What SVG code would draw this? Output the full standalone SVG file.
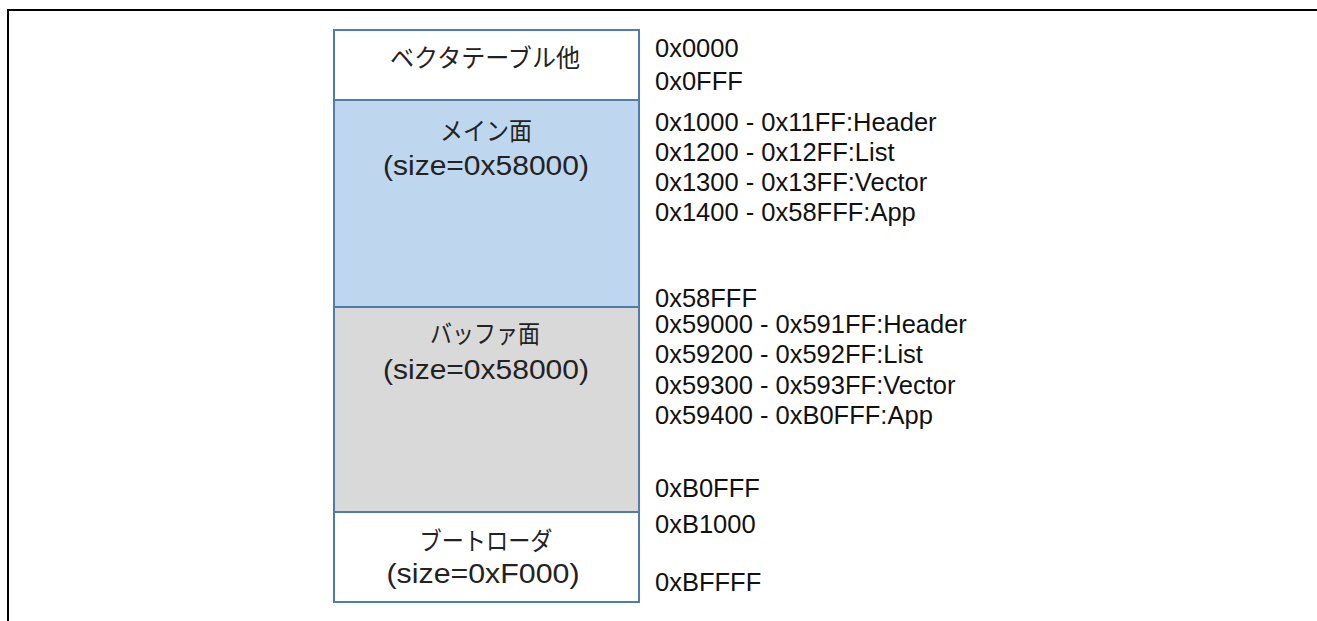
<svg xmlns="http://www.w3.org/2000/svg" width="1317" height="621" viewBox="0 0 1317 621">
  <style>
    .frame { fill: none; stroke: #000; stroke-width: 2; }
    .box { stroke: #4F7CAC; stroke-width: 2; }
    .jp { font-family: "Noto Sans CJK JP", "Noto Sans", sans-serif; font-size: 25px; fill: #222; text-anchor: middle; }
    .lat { font-family: "Liberation Sans", Arial, sans-serif; font-size: 28px; fill: #222; text-anchor: middle; }
    .addr { font-family: "Liberation Sans", Arial, sans-serif; font-size: 25.5px; fill: #111; }
  </style>
  <path class="frame" d="M8,621 V10 H1317"/>
  <g id="vector-table">
    <rect class="box" x="334" y="30" width="305" height="70" fill="#FFFFFF"/>
    <text class="jp" x="485" y="67" textLength="190" lengthAdjust="spacingAndGlyphs">ベクタテーブル他</text>
  </g>
  <g id="main-plane">
    <rect class="box" x="334" y="100" width="305" height="207" fill="#BED7EE"/>
    <text class="jp" x="486" y="140" textLength="92" lengthAdjust="spacingAndGlyphs">メイン面</text>
    <text class="lat" x="486" y="175" textLength="206" lengthAdjust="spacingAndGlyphs">(size=0x58000)</text>
  </g>
  <g id="buffer-plane">
    <rect class="box" x="334" y="307" width="305" height="205" fill="#D9D9D9"/>
    <text class="jp" x="485" y="343" textLength="110" lengthAdjust="spacingAndGlyphs">バッファ面</text>
    <text class="lat" x="486" y="379" textLength="206" lengthAdjust="spacingAndGlyphs">(size=0x58000)</text>
  </g>
  <g id="bootloader">
    <rect class="box" x="334" y="512" width="305" height="90" fill="#FFFFFF"/>
    <text class="jp" x="486" y="550" textLength="133" lengthAdjust="spacingAndGlyphs">ブートローダ</text>
    <text class="lat" x="483" y="583" textLength="193" lengthAdjust="spacingAndGlyphs">(size=0xF000)</text>
  </g>
  <g id="addresses">
    <text class="addr" x="655" y="57">0x0000</text>
    <text class="addr" x="655" y="90">0x0FFF</text>
    <text class="addr" x="655" y="131">0x1000 - 0x11FF:Header</text>
    <text class="addr" x="655" y="161">0x1200 - 0x12FF:List</text>
    <text class="addr" x="655" y="191">0x1300 - 0x13FF:Vector</text>
    <text class="addr" x="655" y="221">0x1400 - 0x58FFF:App</text>
    <text class="addr" x="655" y="307">0x58FFF</text>
    <text class="addr" x="655" y="333">0x59000 - 0x591FF:Header</text>
    <text class="addr" x="655" y="363">0x59200 - 0x592FF:List</text>
    <text class="addr" x="655" y="394">0x59300 - 0x593FF:Vector</text>
    <text class="addr" x="655" y="424">0x59400 - 0xB0FFF:App</text>
    <text class="addr" x="655" y="497">0xB0FFF</text>
    <text class="addr" x="655" y="533">0xB1000</text>
    <text class="addr" x="655" y="591">0xBFFFF</text>
  </g>
</svg>
